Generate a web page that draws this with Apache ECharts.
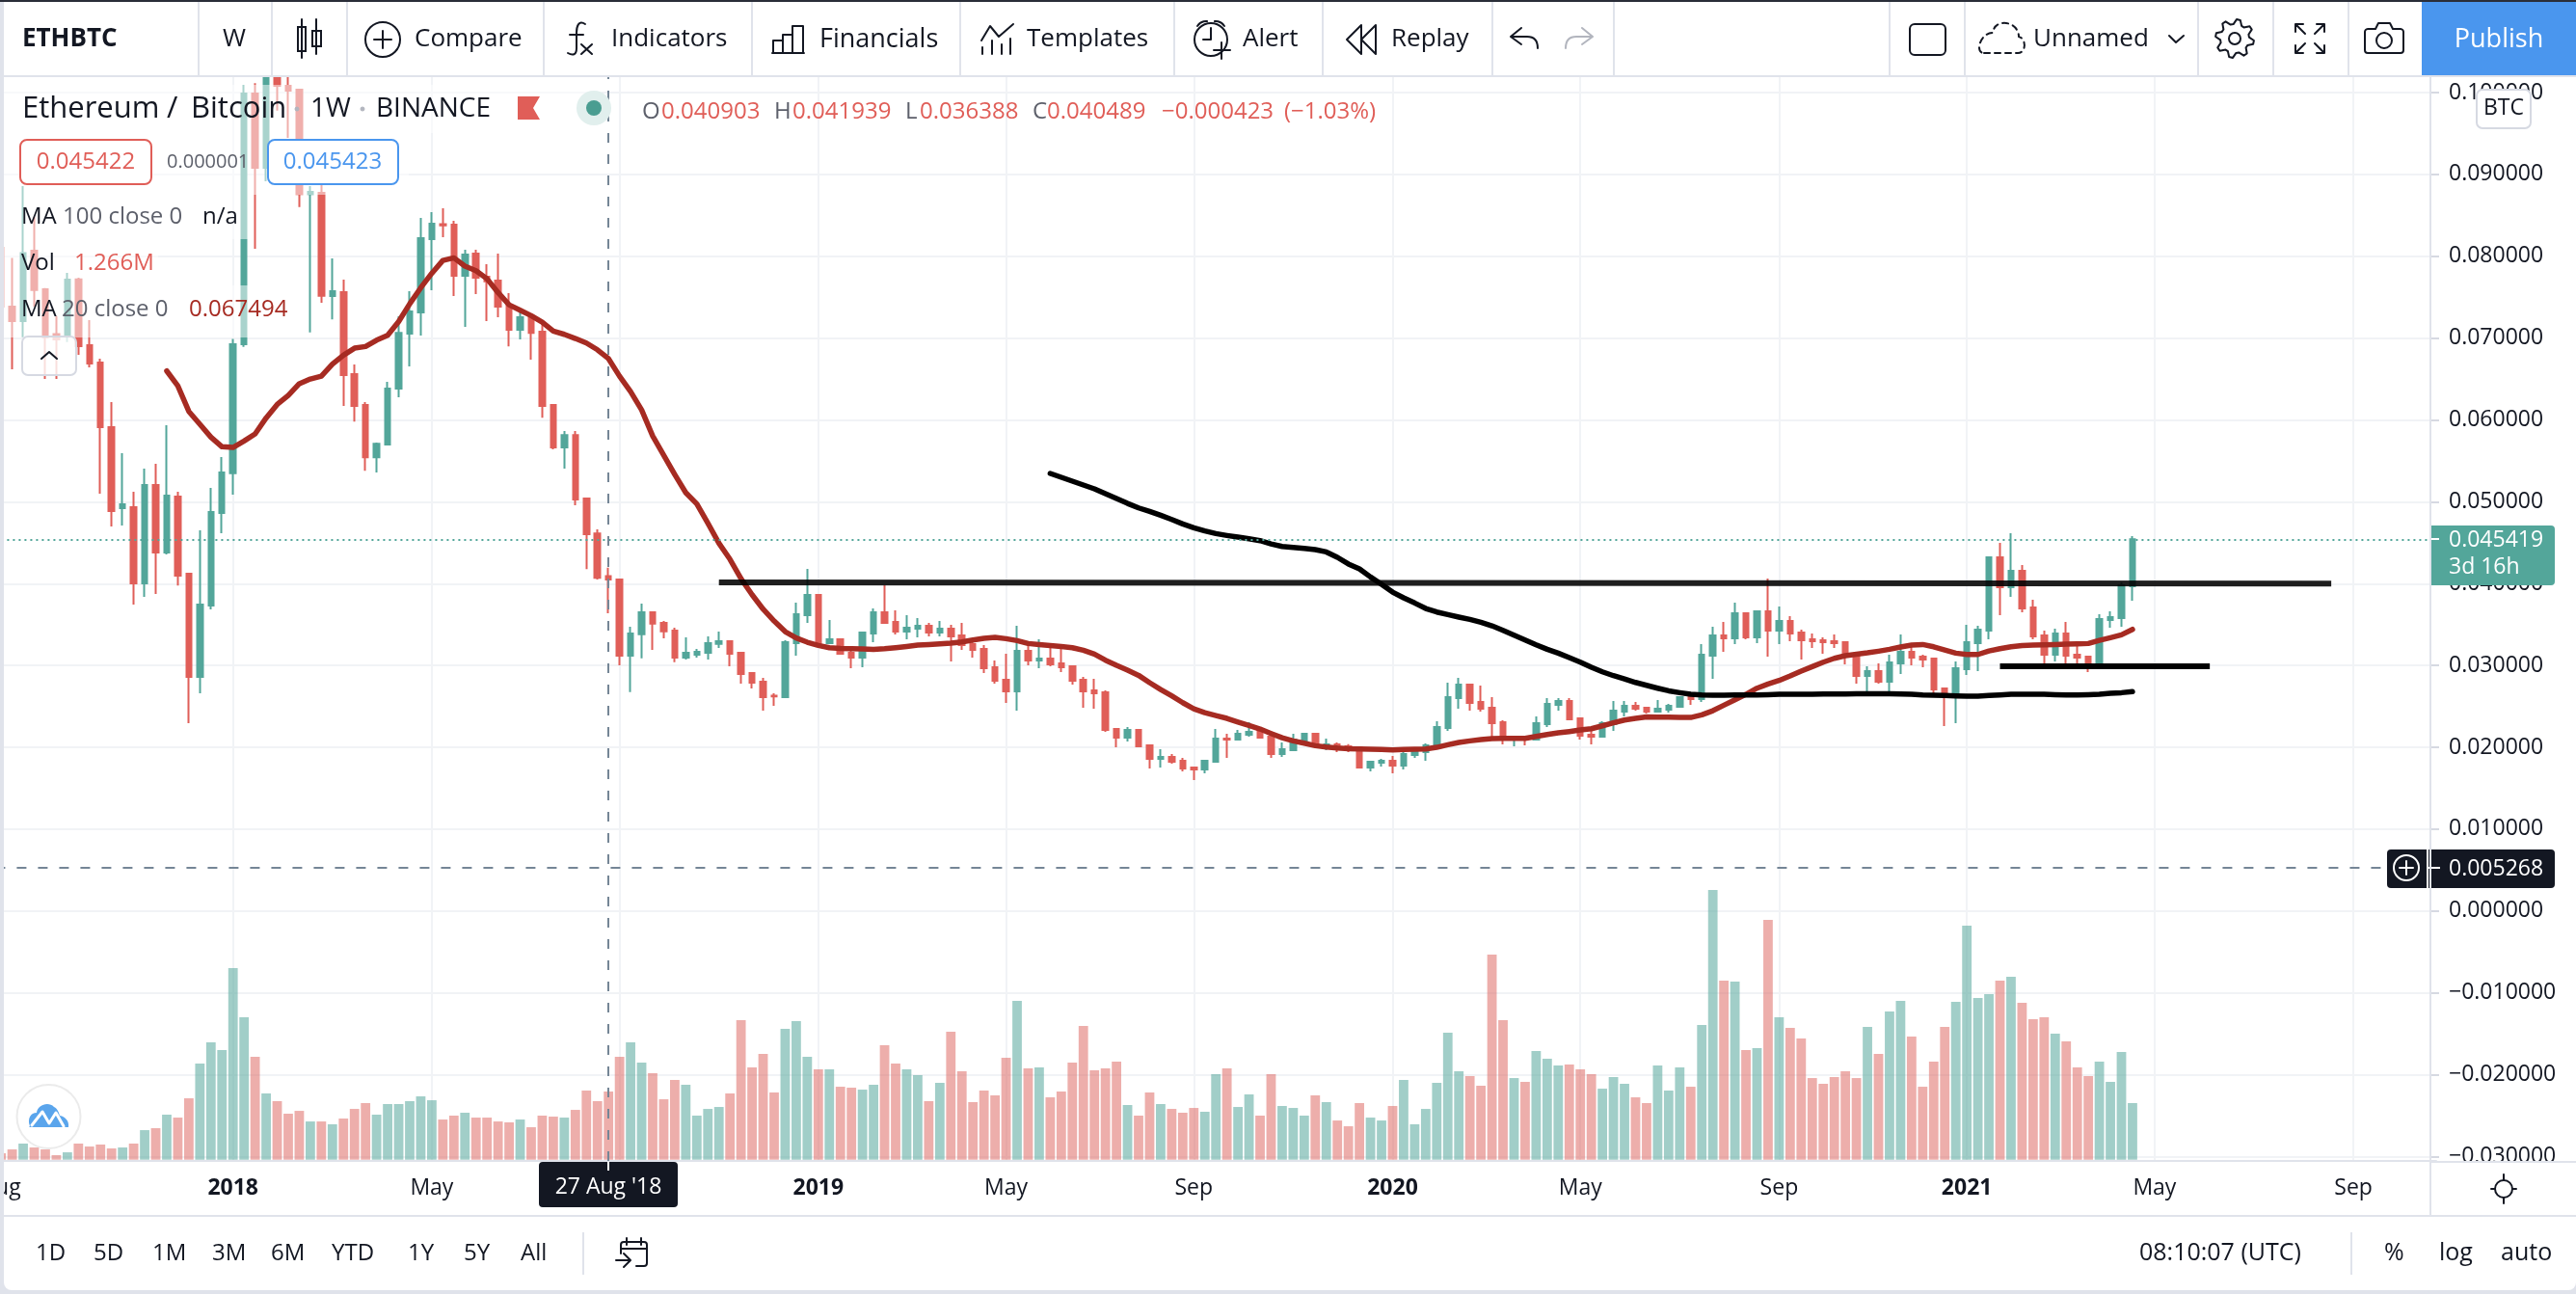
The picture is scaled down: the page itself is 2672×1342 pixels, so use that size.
<!DOCTYPE html>
<html>
<head>
<meta charset="utf-8">
<title>ETHBTC weekly</title>
<style>
  html, body { margin: 0; padding: 0; background: #e0e3eb; }
  #chart { width: 2672px; height: 1342px; }
</style>
<script src="https://cdn.jsdelivr.net/npm/echarts@6/dist/echarts.min.js"></script>
</head>
<body>
<div id="chart"></div>
<script>
// Weekly ETH/BTC candles, first bar is the week of 7 Aug 2017.
const firstWeek = '2017-08-07';
const emptyWeeksAfter = 27;

const opens = [
  .08103,.07384,.07207,.08067,.07596,.07050,.07022,.07718,.06912,.06700,
  .05911,.04921,.04933,.04002,.05204,.04379,.05063,.04120,.02859,.03731,
  .04862,.05350,.06924,.09988,.09081,.10400,.10082,.10035,.08759,.08774,
  .07513,.07560,.06559,.06182,.05545,.05699,.06382,.07054,.07313,.08209,
  .08393,.08385,.07761,.08032,.07749,.07702,.07395,.07101,.07254,.07077,
  .06182,.05663,.05816,.05039,.04614,.040903,.04049,.03119,.03382,.03649,
  .03519,.03425,.03095,.03130,.03154,.03264,.03295,.03154,.02906,.02800,
  .02631,.02612,.03272,.03613,.03861,.03272,.03319,.03154,.03095,.03390,
  .03649,.03531,.03413,.03448,.03484,.03401,.03448,.03366,.03260,.03201,
  .02977,.02824,.02683,.03177,.03060,.03083,.03024,.02989,.02824,.02694,
  .02671,.02223,.02117,.02211,.02023,.01858,.01881,.01834,.01752,.01728,
  .01822,.02105,.02093,.02152,.02199,.02129,.01917,.01964,.02082,.02164,
  .02011,.02034,.02011,.02000,.01752,.01811,.01834,.01775,.01905,.01940,
  .02000,.02235,.02600,.02765,.02553,.02482,.02305,.02093,.02117,.02093,
  .02282,.02518,.02565,.02353,.02152,.02129,.02282,.02435,.02506,.02482,
  .02435,.02459,.02494,.02612,.02588,.03119,.03366,.03331,.03637,.03342,
  .03661,.03425,.03543,.03401,.03319,.03307,.03295,.03284,.03119,.02871,
  .02930,.02800,.03024,.03166,.03107,.03083,.02718,.02647,.02954,.03272,
  .03425,.04321,.03955,.04156,.03708,.03366,.03130,.03390,.03130,.03107,
  .03001,.03555,.03578,.03967
];
const closes = [
  .07384,.07207,.08040,.07588,.07011,.06983,.07714,.06901,.06689,.05911,
  .04886,.04969,.04002,.05204,.04379,.05075,.04097,.02859,.03743,.04874,
  .05357,.06924,.09988,.09081,.10350,.10082,.10023,.08759,.08786,.07517,
  .07572,.06547,.06170,.05545,.05710,.06382,.07065,.07325,.08220,.08397,
  .08377,.07761,.08020,.07737,.07694,.07384,.07101,.07254,.07065,.06170,
  .05663,.05816,.05027,.04603,.04072,.040489,.03119,.03390,.03649,.03511,
  .03417,.03095,.03154,.03166,.03272,.03295,.03142,.02895,.02789,.02612,
  .02620,.03284,.03625,.03861,.03272,.03319,.03142,.03095,.03401,.03649,
  .03519,.03413,.03460,.03484,.03401,.03448,.03354,.03248,.03189,.02965,
  .02812,.02683,.03177,.03060,.03083,.03012,.02977,.02812,.02683,.02659,
  .02211,.02117,.02211,.02011,.01858,.01881,.01822,.01740,.01728,.01834,
  .02105,.02093,.02164,.02188,.02117,.01917,.01975,.02093,.02164,.02011,
  .02034,.01987,.01968,.01752,.01822,.01834,.01775,.01917,.01952,.02023,
  .02247,.02612,.02765,.02541,.02470,.02294,.02093,.02117,.02093,.02294,
  .02529,.02565,.02341,.02140,.02129,.02294,.02447,.02506,.02470,.02435,
  .02470,.02506,.02612,.02588,.03130,.03366,.03331,.03637,.03342,.03661,
  .03425,.03543,.03390,.03307,.03295,.03284,.03272,.03107,.02871,.02930,
  .02800,.03036,.03166,.03095,.03071,.02706,.02647,.02965,.03284,.03437,
  .04321,.03955,.04156,.03696,.03354,.03130,.03390,.03119,.03095,.03001,
  .03566,.03590,.03979,.045419
];
const lows = [
  .07345,.06618,.07011,.07384,.06500,.06500,.06952,.06795,.06641,.05098,
  .04698,.04709,.03743,.03837,.03873,.04356,.03976,.02294,.02659,.03684,
  .04615,.05086,.06893,.08091,.08916,.09780,.09446,.08602,.07070,.07431,
  .07230,.06170,.05981,.05380,.05357,.05687,.06276,.06653,.07030,.07584,
  .08232,.07513,.07136,.07537,.07207,.07254,.06900,.06983,.06736,.06028,
  .05640,.05404,.04956,.04178,.04049,.036388,.03001,.02675,.03087,.03189,
  .03331,.03040,.03071,.03095,.03071,.03213,.02989,.02777,.02718,.02447,
  .02506,.02600,.03119,.03519,.03236,.03272,.03142,.02965,.02977,.03284,
  .03507,.03378,.03319,.03342,.03354,.03354,.03048,.03189,.03095,.02906,
  .02777,.02541,.02447,.03001,.02965,.02989,.02918,.02765,.02482,.02470,
  .02188,.02000,.02070,.02000,.01740,.01752,.01799,.01704,.01598,.01681,
  .01822,.01870,.02082,.02129,.02105,.01870,.01881,.01952,.02070,.02000,
  .01964,.01940,.01940,.01752,.01704,.01763,.01681,.01728,.01870,.01834,
  .01987,.02199,.02470,.02447,.02435,.02082,.02034,.02011,.02023,.02093,
  .02247,.02447,.02329,.02093,.02034,.02117,.02199,.02376,.02447,.02411,
  .02423,.02423,.02494,.02518,.02553,.02836,.03166,.03260,.03319,.03272,
  .03107,.03260,.03295,.03071,.03213,.03142,.03213,.03012,.02777,.02683,
  .02777,.02683,.02895,.03001,.02977,.02659,.02258,.02294,.02883,.02930,
  .03319,.03613,.03837,.03649,.03319,.03001,.03048,.03024,.03001,.02918,
  .03001,.03460,.03472,.03790
];
const highs = [
  .08150,.07981,.08857,.08484,.07612,.07266,.07796,.07737,.07219,.06747,
  .06218,.05593,.05122,.05405,.05463,.05935,.05122,.04132,.04650,.05169,
  .05546,.06991,.10094,.10114,.10800,.10700,.10450,.10047,.08857,.08876,
  .07973,.07714,.06677,.06217,.05722,.06465,.07266,.07572,.08468,.08538,
  .08586,.08432,.08079,.08079,.07902,.08032,.07549,.07313,.07278,.07183,
  .06182,.05864,.05864,.05050,.04662,.041939,.04049,.03472,.03755,.03661,
  .03543,.03460,.03342,.03201,.03354,.03413,.03307,.03166,.02918,.02848,
  .02659,.03307,.03767,.04179,.03873,.03555,.03331,.03201,.03413,.03696,
  .03979,.03672,.03613,.03578,.03519,.03543,.03496,.03519,.03331,.03248,
  .03060,.03142,.03484,.03272,.03319,.03213,.03225,.03001,.02859,.02836,
  .02694,.02235,.02247,.02223,.02034,.01975,.01917,.01870,.01763,.01846,
  .02223,.02164,.02211,.02305,.02247,.02199,.02058,.02164,.02176,.02176,
  .02105,.02058,.02038,.02011,.01834,.01858,.01893,.02000,.01952,.02046,
  .02317,.02789,.02848,.02777,.02753,.02612,.02329,.02129,.02129,.02376,
  .02600,.02600,.02600,.02364,.02199,.02317,.02565,.02565,.02553,.02482,
  .02576,.02529,.02624,.02659,.03260,.03472,.03531,.03767,.03649,.03672,
  .04061,.03720,.03602,.03437,.03390,.03342,.03378,.03295,.03130,.02989,
  .03024,.03130,.03378,.03225,.03130,.03083,.02730,.03048,.03496,.03484,
  .04332,.04497,.04615,.04226,.03802,.03425,.03448,.03531,.03272,.03107,
  .03625,.03661,.04014,.04580
];
// Volume in millions of ETH per week.
const volumes = [
  .119,.191,.299,.227,.191,.084,.137,.299,.245,.281,
  .209,.227,.299,.549,.585,.836,.782,1.140,1.785,2.179,
  2.036,3.558,2.645,1.910,1.230,1.087,.854,.907,.710,.710,
  .657,.764,.943,1.051,.836,1.033,1.033,1.087,1.176,1.104,
  .746,.818,.872,.782,.782,.710,.693,.746,.603,.818,
  .800,.782,.925,1.284,1.087,1.266,1.910,2.179,1.803,1.606,
  1.122,1.481,1.391,.818,.943,.979,1.230,2.591,1.713,1.964,
  1.248,2.430,2.573,1.910,1.678,1.678,1.355,1.337,1.301,1.391,
  2.125,1.785,1.678,1.570,1.087,1.427,2.376,1.642,1.069,1.284,
  1.194,1.892,2.949,1.695,1.713,1.158,1.266,1.803,2.484,1.660,
  1.695,1.821,1.015,.818,1.248,1.033,.943,.872,.961,.890,
  1.588,1.695,.979,1.212,.818,1.588,.997,.961,.818,1.194,
  1.069,.728,.621,1.051,.782,.728,.997,1.481,.657,.943,
  1.427,2.358,1.642,1.552,1.373,3.809,2.591,1.516,1.445,2.018,
  1.875,1.749,1.767,1.678,1.588,1.319,1.534,1.409,1.158,1.051,
  1.749,1.284,1.713,1.355,2.501,5.009,3.325,3.307,2.036,2.072,
  4.454,2.645,2.448,2.251,1.516,1.409,1.534,1.642,1.516,2.466,
  1.964,2.752,2.949,2.287,1.355,1.821,2.466,2.931,4.346,3.003,
  3.075,3.325,3.397,2.913,2.609,2.645,2.340,2.197,1.713,1.552,
  1.821,1.445,2.000,1.051
];
// 20-week average, starts 20 Nov 2017.
const ma20Start = '2017-11-20';
const ma20 = [
  .06598,.06418,.06104,.05947,.05790,.05672,.05664,.05742,.05829,.06025,
  .06190,.06300,.06443,.06500,.06535,.06681,.06791,.06877,.06897,.06975,
  .07034,.07203,.07419,.07615,.07792,.07949,.07981,.07879,.07824,.07725,
  .07556,.07407,.07340,.07274,.07195,.07085,.07046,.06995,.06940,.06857,
  .067494,.06535,.06347,.06123,.05805,.05569,.05333,.05110,.04973,.04737,
  .04493,.04297,.04061,.03865,.03688,.03543,.03413,.03335,.03284,.03244,
  .03217,.03209,.03205,.03201,.03197,.03205,.03217,.03232,.03248,.03256,
  .03264,.03272,.03287,.03311,.03331,.03342,.03327,.03303,.03268,.03256,
  .03244,.03232,.03217,.03185,.03138,.03064,.03001,.02942,.02879,.02789,
  .02706,.02628,.02545,.02470,.02423,.02388,.02353,.02309,.02266,.02223,
  .02168,.02117,.02078,.02050,.02019,.02003,.01991,.01983,.01979,.01975,
  .01972,.01968,.01972,.01975,.01979,.01999,.02030,.02058,.02078,.02093,
  .02105,.02109,.02109,.02109,.02133,.02156,.02176,.02192,.02211,.02227,
  .02262,.02298,.02333,.02353,.02372,.02368,.02368,.02364,.02364,.02396,
  .02447,.02514,.02580,.02647,.02722,.02773,.02816,.02871,.02930,.02985,
  .03040,.03087,.03119,.03138,.03154,.03174,.03197,.03225,.03248,.03256,
  .03228,.03189,.03150,.03134,.03134,.03177,.03205,.03228,.03244,.03248,
  .03252,.03256,.03260,.03264,.03268,.03307,.03339,.03374,.03441
];
// 100-week average, starts 3 Jun 2019.
const ma100Start = '2019-06-03';
const ma100 = [
  .05346,.05299,.05252,.05205,.05158,.05099,.05040,.04980,.04925,.04882,
  .04835,.04784,.04729,.04682,.04643,.04611,.04588,.04568,.04548,.04525,
  .04485,.04454,.04442,.04430,.04415,.04387,.04321,.04240,.04179,.04081,
  .03991,.03896,.03826,.03763,.03696,.03653,.03621,.03590,.03562,.03527,
  .03484,.03429,.03370,.03311,.03252,.03197,.03150,.03095,.03040,.02977,
  .02922,.02875,.02836,.02792,.02757,.02722,.02690,.02667,.02647,.02639,
  .02635,.02635,.02639,.02639,.02639,.02643,.02647,.02647,.02647,.02647,
  .02651,.02651,.02651,.02655,.02655,.02655,.02655,.02651,.02647,.02639,
  .02635,.02632,.02628,.02624,.02624,.02632,.02639,.02647,.02647,.02647,
  .02647,.02643,.02639,.02639,.02643,.02647,.02659,.02667,.02679
];
// Hand-drawn levels: start week, end week, price at each end.
const resistanceLine = ['2018-11-05', '2021-08-23', 0.04014, 0.04000];
const supportLine = ['2021-01-25', '2021-06-07', 0.02989, 0.02989];

const priceTicks = [-0.03, -0.02, -0.01, 0, 0.01, 0.02, 0.03, 0.04, 0.05, 0.06, 0.07, 0.08, 0.09, 0.1];
const timeTicks = {
  '2017-08-07': 'Aug', '2018-01-01': '2018', '2018-05-07': 'May', '2018-09-03': '',
  '2019-01-07': '2019', '2019-05-06': 'May', '2019-09-02': 'Sep',
  '2020-01-06': '2020', '2020-05-04': 'May', '2020-09-07': 'Sep',
  '2021-01-04': '2021', '2021-05-03': 'May', '2021-09-06': 'Sep'
};
const crosshairWeek = '2018-08-27';
const crosshairPrice = 0.005268;

const FONT = '"Open Sans", "Noto Sans", sans-serif';
const INK = '#131722', GREY = '#5d606b', LINE = '#e0e3eb', GRID = '#f1f3f6';
const UP = '#53a69a', DOWN = '#e05e58', MA_RED = '#a62b22', BLUE = '#4a96ee';

const weeks = [];
{
  const start = Date.parse(firstWeek + 'T00:00:00Z');
  for (let i = 0; i < opens.length + emptyWeeksAfter; i++) {
    weeks.push(new Date(start + i * 7 * 864e5).toISOString().slice(0, 10));
  }
}
const pad = (values, startWeek) => {
  const head = weeks.indexOf(startWeek);
  return weeks.map((_, i) => (i >= head && i - head < values.length) ? values[i - head] : null);
};
const isTick = (i) => timeTicks[weeks[i]] !== undefined;

// Page furniture drawn on top of the plot.
const els = [];
const Z = 100;
let iconCount = 0;
const rect = (x, y, w, h, fill, extra) => els.push(Object.assign({
  type: 'rect', z: Z, silent: true, shape: { x, y, width: w, height: h, r: (extra && extra.r) || 0 },
  style: { fill, stroke: extra && extra.stroke, lineWidth: (extra && extra.lw) || 0 }
}));
const text = (x, y, t, size, fill, o) => els.push({
  type: 'text', z: Z + 1, silent: true, x, y,
  style: {
    text: t, fill, font: (o && o.bold ? 'bold ' : '') + size + 'px ' + FONT,
    textAlign: (o && o.align) || 'left', textVerticalAlign: 'middle'
  }
});
const path = (d, stroke, lw, o) => {
  // SVG-style outlines become registered shapes, one per icon.
  const name = 'icon' + (iconCount++);
  echarts.graphic.registerShape(name, echarts.graphic.extendPath(d, {}));
  els.push({
    type: name, z: Z + 1, silent: true,
    style: { stroke, lineWidth: lw === undefined ? 2 : lw, fill: (o && o.fill) || 'none', lineDash: o && o.dash, lineCap: 'round', lineJoin: 'round' }
  });
};
const circle = (cx, cy, r, stroke, lw, fill) => els.push({
  type: 'circle', z: Z + 1, silent: true, shape: { cx, cy, r },
  style: { stroke, lineWidth: lw, fill: fill || 'none' }
});

// Panel behind everything.
els.push({ type: 'rect', z: -1, silent: true, shape: { x: 4, y: 2, width: 2668, height: 1336, r: [0, 0, 8, 8] }, style: { fill: '#fff' } });

// Veils behind the legend rows.
[[4, 88, 620, 50], [4, 138, 420, 64], [4, 202, 258, 46], [4, 248, 160, 48], [4, 296, 304, 54]].forEach(([x, y, w, h]) => {
  rect(x, y, w, h, 'rgba(255,255,255,0.5)');
});

// Current price, crosshair tags.
rect(2521, 545, 129, 62, UP, { r: [0, 4, 4, 0] });
text(2540, 560, '0.045419', 23, '#fff');
text(2540, 588, '3d 16h', 23, '#fff');
rect(2521, 558, 9, 2, '#fff');

rect(2476, 881, 174, 40, INK, { r: 4 });
circle(2496, 900, 13, '#fff', 2);
path('M2496 893 V907 M2489 900 H2503', '#fff', 2);
rect(2517, 881, 2, 40, '#fff');
rect(2519, 899, 12, 2, '#fff');
text(2540, 901, '0.005268', 23, '#fff');

rect(559, 1205, 144, 47, INK, { r: 4 });
rect(630, 1205, 2, 9, '#fff');
text(631, 1231, "27 Aug '18", 23, '#fff', { align: 'center' });

// Price-scale tail and bottom of the scale.
rect(2523, 1205, 149, 55, '#fff');
rect(2520, 1204, 152, 2, LINE);
rect(2520, 80, 2, 1180, LINE);

rect(2569, 93, 56, 40, '#fff', { r: 6, stroke: '#d6d9e2', lw: 2 });
text(2597, 112, 'BTC', 23, INK, { align: 'center' });

// Scale settings sun.
circle(2597, 1233, 9, INK, 2);
path('M2597 1218 V1224 M2597 1242 V1248 M2584 1233 H2588 M2606 1233 H2610', INK, 2);

// Left edge and top strip.
rect(0, 0, 4, 1342, LINE);

// Top toolbar.
rect(0, 0, 2672, 78, '#fff');
rect(0, 0, 2672, 2, '#2a2e39');
rect(0, 78, 2672, 2, LINE);
rect(0, 2, 4, 76, LINE);
[205, 281, 359, 563, 779, 995, 1217, 1371, 1547, 1673, 1959, 2037, 2279, 2357, 2435].forEach((x) => rect(x, 2, 2, 76, LINE));
rect(2512, 2, 160, 76, BLUE);

text(23, 41, 'ETHBTC', 26, INK, { bold: true });
text(243, 41, 'W', 26, INK, { align: 'center' });
path('M313 20 V60 M328 20 V56', INK, 2);
rect(309, 28, 8, 25, '#fff', { stroke: INK, lw: 2 });
rect(324, 32, 9, 16, '#fff', { stroke: INK, lw: 2 });
circle(397, 41, 18, INK, 2);
path('M397 32 V50 M388 41 H406', INK, 2);
text(430, 41, 'Compare', 26, INK);
path('M607 25 C600 20 598 28 598 34 L598 50 C598 57 594 58 589 55 M591 36 H605 M603 46 L614 56 M614 46 L603 56', INK, 2);
text(634, 41, 'Indicators', 26, INK);
path('M802 55 V42 H812 V55 M812 55 V36 H822 V55 M822 55 V27 H833 V55 M801 55 H834', INK, 2);
text(850, 41, 'Financials', 27, INK);
path('M1018 42 L1027 27 L1036 38 L1051 25 M1019 56 V49 M1029 56 V42 M1039 56 V46 M1048 56 V40', INK, 2);
text(1065, 41, 'Templates', 26, INK);
circle(1256, 41, 17, INK, 2);
path('M1242 27 C1246 21 1252 22 1252 22 M1270 27 C1266 21 1260 22 1260 22 M1256 29 V41 H1248', INK, 2);
rect(1258, 43, 20, 20, '#fff');
path('M1267 44 V61 M1259 52 H1276', INK, 2);
text(1289, 41, 'Alert', 26, INK);
path('M1412 26 L1397 41 L1412 56 Z M1427 26 L1412 41 L1427 56 Z', INK, 2);
text(1443, 41, 'Replay', 26, INK);
path('M1578 29 L1567 38 L1578 46 M1567 38 H1584 C1592 38 1595 43 1595 50', INK, 2);
path('M1641 29 L1652 38 L1641 46 M1652 38 H1635 C1627 38 1624 43 1624 50', '#b2b5be', 2);
rect(1981, 25, 37, 32, '#fff', { r: 5, stroke: INK, lw: 2 });
path('M2058 55 H2093 C2102 55 2102 40 2094 38 C2094 22 2069 18 2067 34 C2054 34 2048 55 2058 55 Z', INK, 2, { dash: [6, 5] });
text(2109, 41, 'Unnamed', 26, INK);
path('M2250 37 L2257 44 L2265 37', INK, 2);
{
  // Cog outline.
  const cx = 2318, cy = 40; let d = '';
  for (let i = 0; i < 32; i++) {
    const a = (i / 32) * 2 * Math.PI + 0.1, r = (i % 4 < 2) ? 20 : 15;
    d += (i ? 'L' : 'M') + (cx + r * Math.cos(a)).toFixed(1) + ' ' + (cy + r * Math.sin(a)).toFixed(1) + ' ';
  }
  path(d + 'Z', INK, 2);
  circle(cx, cy, 6, INK, 2);
}
path('M2381 25 H2389 M2381 25 V33 M2381 25 L2391 35 M2411 25 H2403 M2411 25 V33 M2411 25 L2401 35 M2381 55 H2389 M2381 55 V47 M2381 55 L2391 45 M2411 55 H2403 M2411 55 V47 M2411 55 L2401 45', INK, 2);
path('M2456 30 H2464 L2467 24 H2479 L2482 30 H2490 C2492 30 2493 32 2493 33 V52 C2493 54 2492 55 2490 55 H2456 C2454 55 2453 54 2453 52 V33 C2453 32 2454 30 2456 30 Z', INK, 2);
circle(2473, 42, 8, INK, 2);
text(2592, 41, 'Publish', 27, '#fff', { align: 'center' });

// Legend rows.
text(23, 113, 'Ethereum', 31, INK);
text(173, 113, '/', 31, INK);
text(198, 113, 'Bitcoin', 31, INK);
circle(308, 113, 2, '#b2b5be', 1, '#b2b5be');
text(322, 113, '1W', 28, INK);
circle(376, 113, 2, '#b2b5be', 1, '#b2b5be');
text(390, 113, 'BINANCE', 28, INK);
path('M537 100 H560 L553 112 L560 124 H537 Z', DOWN, 0, { fill: DOWN });
circle(616, 112, 18, null, 0, '#e1efed');
circle(616, 112, 8, null, 0, '#4a9d91');
text(666, 116, 'O', 24, GREY);
text(686, 116, '0.040903', 24, DOWN);
text(803, 116, 'H', 24, GREY);
text(822, 116, '0.041939', 24, DOWN);
text(939, 116, 'L', 24, GREY);
text(954, 116, '0.036388', 24, DOWN);
text(1071, 116, 'C', 24, GREY);
text(1086, 116, '0.040489', 24, DOWN);
text(1205, 116, '\u22120.000423', 24, DOWN);
text(1332, 116, '(\u22121.03%)', 24, DOWN);

rect(21, 145, 136, 46, '#fff', { r: 7, stroke: DOWN, lw: 2 });
text(89, 168, '0.045422', 24, DOWN, { align: 'center' });
text(173, 168, '0.000001', 20, GREY);
rect(278, 145, 135, 46, '#fff', { r: 7, stroke: BLUE, lw: 2 });
text(345, 168, '0.045423', 24, BLUE, { align: 'center' });

text(22, 225, 'MA', 24, INK);
text(65, 225, '100 close 0', 24, GREY);
text(210, 225, 'n/a', 24, INK);
text(22, 273, 'Vol', 24, INK);
text(77, 273, '1.266M', 24, DOWN);
text(22, 321, 'MA', 24, INK);
text(64, 321, '20 close 0', 24, GREY);
text(196, 321, '0.067494', 24, MA_RED);

rect(23, 349, 56, 40, 'rgba(255,255,255,0.8)', { r: 6, stroke: '#d6d9e2', lw: 2 });
path('M43 372 L51 365 L59 372', INK, 2);

// Logo badge.
circle(50.5, 1158, 33, '#ebebeb', 2, '#fff');
path('M31 1168 C28 1160 32 1154 38 1154 C39 1146 50 1142 56 1148 C60 1150 61 1154 62 1157 C68 1158 72 1163 71 1169 L67 1169 L30 1169 Z', '#5aa5ec', 0, { fill: '#5aa5ec' });
path('M33 1167 L44 1153 L51 1165 L58 1154 L66 1168', '#fff', 3);

// Bottom bar.
rect(4, 1260, 2668, 2, LINE);
[['1D', 37], ['5D', 97], ['1M', 158], ['3M', 220], ['6M', 281], ['YTD', 344], ['1Y', 423], ['5Y', 481], ['All', 540]].forEach(([t, x]) => text(x, 1300, t, 24, INK));
rect(604, 1278, 2, 44, LINE);
rect(2438, 1278, 2, 44, LINE);
path('M644 1300 V1291 C644 1289 645 1288 647 1288 H668 C670 1288 671 1289 671 1291 V1310 C671 1312 670 1313 668 1313 H660 M644 1295 H671 M650 1284 V1291 M665 1284 V1291 M639 1307 H653 M647 1300 L654 1307 L647 1314', INK, 2);
text(2219, 1300, '08:10:07 (UTC)', 25, INK);
text(2473, 1300, '%', 25, INK);
text(2530, 1300, 'log', 25, INK);
text(2594, 1300, 'auto', 25, INK);

const option = {
  animation: false,
  textStyle: { fontFamily: FONT },
  graphic: { elements: els },
  grid: { left: -4.58, top: 80, width: 2531.56, height: 1124, containLabel: false, outerBoundsMode: 'none' },
  xAxis: {
    type: 'category', data: weeks,
    axisLine: { onZero: false, lineStyle: { color: LINE, width: 2 } },
    axisTick: { alignWithLabel: true, interval: isTick, length: 10, lineStyle: { color: '#d6d9e2', width: 2 } },
    splitLine: { show: true, alignWithLabel: true, interval: isTick, lineStyle: { color: GRID, width: 2 } },
    axisLabel: {
      interval: (i) => isTick(i) && timeTicks[weeks[i]] !== '',
      margin: 17, fontSize: 23, color: INK, fontFamily: FONT,
      formatter: (w) => {
        const t = timeTicks[w] || '';
        return /^\d+$/.test(t) ? '{year|' + t + '}' : t;
      },
      rich: { year: { fontWeight: 'bold', fontSize: 23, color: INK, fontFamily: FONT } }
    }
  },
  yAxis: [
    {
      type: 'value', position: 'right', offset: -6, min: -0.03055, max: 0.10189, scale: true,
      axisLine: { show: true, lineStyle: { color: LINE, width: 2 } },
      axisTick: { show: true, customValues: priceTicks, length: 9, lineStyle: { color: '#d6d9e2', width: 2 } },
      splitLine: { show: true, lineStyle: { color: GRID, width: 2 } },
      axisLabel: {
        customValues: priceTicks, margin: 19, fontSize: 23, color: INK, fontFamily: FONT,
        formatter: (v) => v.toFixed(6).replace('-', '\u2212')
      }
    },
    { type: 'value', min: -0.023, max: 20.1, show: false, splitLine: { show: false } }
  ],
  series: [
    {
      name: 'Vol', type: 'bar', yAxisIndex: 1, z: 2, barWidth: 9.8,
      data: volumes.map((v, i) => ({
        value: v,
        itemStyle: { color: closes[i] >= opens[i] ? 'rgba(83,166,154,0.55)' : 'rgba(220,100,94,0.52)' }
      }))
    },
    {
      name: 'ETHBTC', type: 'candlestick', z: 3, barWidth: 6,
      data: opens.map((o, i) => [o, closes[i], lows[i], highs[i]]),
      itemStyle: { color: UP, color0: DOWN, borderColor: UP, borderColor0: DOWN, borderWidth: 2 }
    },
    {
      name: 'MA 20', type: 'line', z: 4, symbol: 'none', data: pad(ma20, ma20Start),
      lineStyle: { color: MA_RED, width: 5.5, cap: 'round', join: 'round' }
    },
    {
      name: 'MA 100', type: 'line', z: 4, symbol: 'none', data: pad(ma100, ma100Start),
      lineStyle: { color: '#000', width: 5.5, cap: 'round', join: 'round' }
    },
    {
      name: 'Resistance', type: 'line', z: 5, symbol: 'none',
      data: [[resistanceLine[0], resistanceLine[2]], [resistanceLine[1], resistanceLine[3]]],
      lineStyle: { color: 'rgba(0,0,0,0.88)', width: 6, cap: 'butt' }
    },
    {
      name: 'Support', type: 'line', z: 5, symbol: 'none',
      data: [[supportLine[0], supportLine[2]], [supportLine[1], supportLine[3]]],
      lineStyle: { color: '#000', width: 6, cap: 'butt' }
    },
    {
      name: 'Markers', type: 'line', z: 6, symbol: 'none', data: [],
      markLine: {
        silent: true, symbol: 'none', label: { show: false }, animation: false, precision: 6,
        data: [
          { yAxis: closes[closes.length - 1], lineStyle: { color: UP, width: 2, type: [2, 4] } },
          { yAxis: crosshairPrice, lineStyle: { color: '#758696', width: 2, type: [10, 12] } },
          { xAxis: crosshairWeek, lineStyle: { color: '#758696', width: 2, type: [10, 12] } }
        ]
      }
    }
  ]
};

const chart = echarts.init(document.getElementById('chart'), null, { renderer: 'canvas', width: 2672, height: 1342 });
chart.setOption(option);
</script>
</body>
</html>
